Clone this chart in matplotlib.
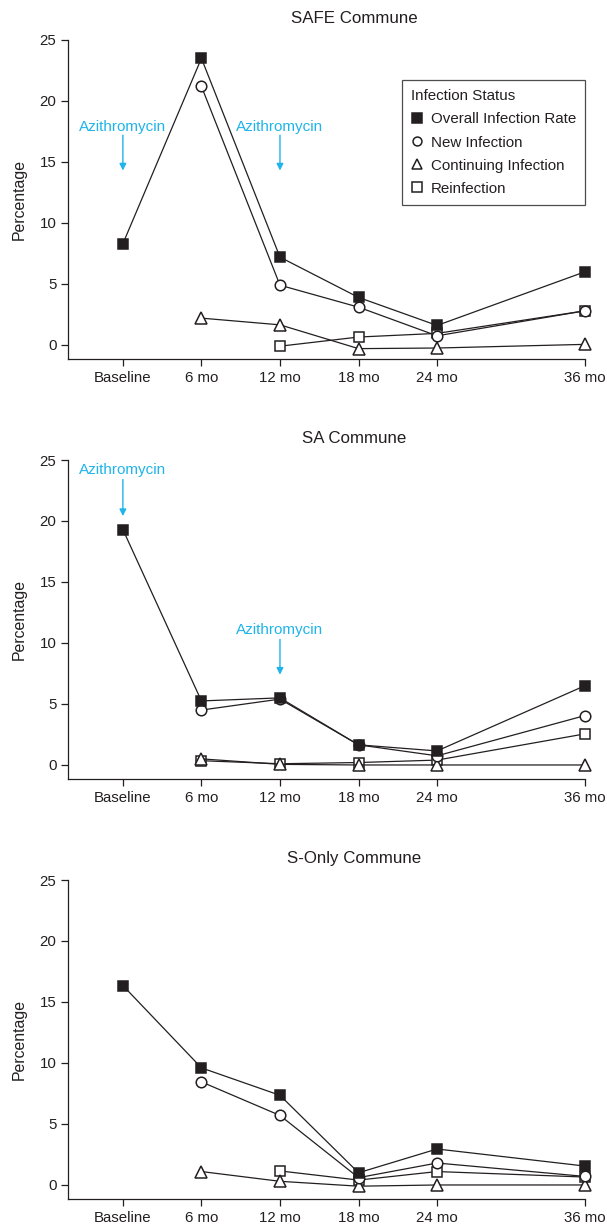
import numpy as np
import matplotlib
matplotlib.use("Agg")
import matplotlib.pyplot as plt

plt.rcParams['font.family'] = ['Liberation Sans', 'DejaVu Sans']

# time points (36 mo sits a little closer than its true spacing in the figure)
tick_labels = ["Baseline", "6 mo", "12 mo", "18 mo", "24 mo", "36 mo"]
tick_pos = [0, 6, 12, 18, 24, 35.3]

panel_titles = ["SAFE Commune", "SA Commune", "S-Only Commune"]

safe_overall = [8.3, 23.5, 7.2, 3.9, 1.6, 6.0]
safe_new = [None, 21.2, 4.9, 3.1, 0.75, 2.8]
safe_cont = [None, 2.2, 1.65, -0.3, -0.25, 0.05]
safe_reinf = [None, None, -0.1, 0.65, 0.95, 2.8]

sa_overall = [19.3, 5.25, 5.5, 1.65, 1.15, 6.5]
sa_new = [None, 4.5, 5.4, 1.65, 0.75, 4.05]
sa_cont = [None, 0.5, 0.05, 0.0, 0.0, 0.0]
sa_reinf = [None, 0.35, 0.1, 0.2, 0.4, 2.55]

so_overall = [16.35, 9.6, 7.35, 1.0, 2.95, 1.55]
so_new = [None, 8.45, 5.7, 0.6, 1.8, 0.7]
so_cont = [None, 1.1, 0.3, -0.1, 0.0, 0.0]
so_reinf = [None, None, 1.15, 0.4, 1.1, 0.65]

panels = [
    [safe_overall, safe_new, safe_cont, safe_reinf],
    [sa_overall, sa_new, sa_cont, sa_reinf],
    [so_overall, so_new, so_cont, so_reinf],
]

# azithromycin arrows: (time index, text y, arrow top, arrow tip)
azi = [
    [(0, 17.9, 17.2, 14.3), (2, 17.9, 17.2, 14.3)],
    [(0, 24.2, 23.4, 20.4), (2, 11.1, 10.3, 7.4)],
    [],
]

series_names = ["Overall Infection Rate", "New Infection", "Continuing Infection", "Reinfection"]
markers = ["s", "o", "^", "s"]
msizes = [7.8, 7.6, 8.6, 7.8]
leg_sizes = [6.6, 6.4, 7.6, 6.6]
faces = ["#231f20", "white", "white", "white"]
ink = "#231f20"
blue = "#1fb4ea"

fig = plt.figure(figsize=(6.07, 12.26), dpi=100)
W, H = 607., 1226.
left_px, right_px = 67.5, 585.
tops = [40, 460, 880]
axh = 319.

for k in range(3):
    ax = fig.add_axes([left_px / W, 1 - (tops[k] + axh) / H, (right_px - left_px) / W, axh / H])
    order = [3, 2, 1, 0]
    for i in order:
        vals = panels[k][i]
        xs = [tick_pos[j] for j in range(6) if vals[j] is not None]
        ys = [vals[j] for j in range(6) if vals[j] is not None]
        ax.plot(xs, ys, color=ink, lw=0.9, marker=markers[i], ms=msizes[i],
                mfc=faces[i], mec=ink, mew=1.1, clip_on=False, zorder=3 + (3 - i),
                label=series_names[i])

    ax.set_xlim(-4.23, 35.3)
    ax.set_ylim(-1.15, 25)
    ax.set_xticks(tick_pos)
    ax.set_xticklabels(tick_labels)
    ax.set_yticks([0, 5, 10, 15, 20, 25])
    ax.spines['top'].set_visible(False)
    ax.spines['right'].set_visible(False)
    for s in ['left', 'bottom']:
        ax.spines[s].set_color(ink)
        ax.spines[s].set_linewidth(0.9)
    ax.tick_params(colors=ink, labelsize=10.8, length=5, width=0.9, pad=3)
    ax.tick_params(axis='x', pad=4)
    ax.set_ylabel("Percentage", fontsize=11.4, color=ink, labelpad=9)
    ax.text((tick_pos[0] + tick_pos[-1]) / 2, 25 + 22 / 12.2, panel_titles[k],
            ha='center', va='center', fontsize=12.2, color=ink)

    for (ti, ty, a0, a1) in azi[k]:
        xx = tick_pos[ti]
        ax.text(xx, ty, "Azithromycin", color=blue, fontsize=11, ha='center', va='center')
        ax.annotate("", xy=(xx, a1), xytext=(xx, a0),
                    arrowprops=dict(arrowstyle='-|>', color=blue, lw=1.0, mutation_scale=10,
                                    shrinkA=0, shrinkB=0))

    if k == 0:
        handles, labels = ax.get_legend_handles_labels()
        handles = handles[::-1]
        labels = labels[::-1]
        leg = ax.legend(handles, labels, title="Infection Status", loc='upper left',
                        bbox_to_anchor=((401.5 - left_px) / (right_px - left_px), 1 - (80 - tops[0]) / axh),
                        fontsize=10.9, title_fontsize=10.9, frameon=True, fancybox=False,
                        handlelength=0.75, handletextpad=0.55, borderpad=0.62, labelspacing=0.6,
                        borderaxespad=0)
        for h, s in zip(leg.legend_handles, leg_sizes):
            h.set_linestyle('None')
            h.set_markersize(s)
        leg.get_frame().set_edgecolor(ink)
        leg.get_frame().set_linewidth(0.9)
        leg._legend_box.align = "left"
        for t in leg.get_texts():
            t.set_color(ink)
        leg.get_title().set_color(ink)

fig.savefig("out.png", dpi=100)
